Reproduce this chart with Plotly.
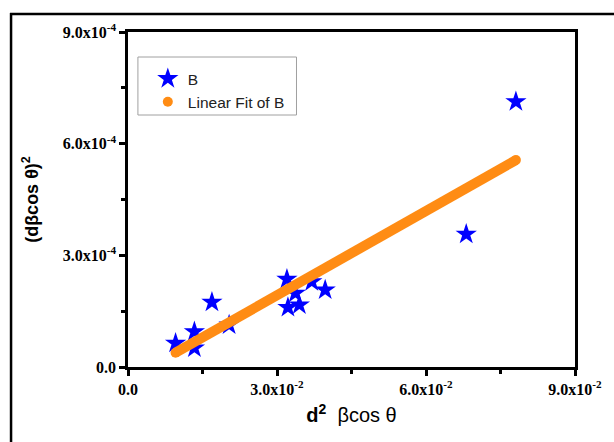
import plotly.graph_objects as go

# Data
b_x = [0.00958, 0.01337, 0.01337, 0.0169, 0.02036, 0.0320, 0.0322, 0.0345, 0.0337, 0.0370, 0.0397, 0.0681, 0.0781]
b_y = [0.64e-4, 0.51e-4, 0.95e-4, 1.74e-4, 1.13e-4, 2.36e-4, 1.60e-4, 1.67e-4, 1.98e-4, 2.29e-4, 2.07e-4, 3.57e-4, 7.13e-4]

fit_x = [0.00958, 0.0781]
fit_y = [0.384e-4, 5.56e-4]

x_tickvals = [0.0, 0.03, 0.06, 0.09]
x_ticktext = ["0.0", "3.0x10<sup>-2</sup>", "6.0x10<sup>-2</sup>", "9.0x10<sup>-2</sup>"]
y_tickvals = [0.0, 3e-4, 6e-4, 9e-4]
y_ticktext = ["0.0", "3.0x10<sup>-4</sup>", "6.0x10<sup>-4</sup>", "9.0x10<sup>-4</sup>"]

ORANGE = "#ff8c14"
BLUE = "#0000ff"

fig = go.Figure()
fig.add_trace(go.Scatter(x=b_x, y=b_y, mode="markers", name="B",
                         marker=dict(symbol="star", size=16, color=BLUE, line=dict(width=0))))
fig.add_trace(go.Scatter(x=fit_x, y=fit_y, mode="lines", showlegend=False,
                         line=dict(color=ORANGE, width=10)))
fig.add_trace(go.Scatter(x=fit_x, y=fit_y, mode="markers", name="Linear Fit of B",
                         marker=dict(symbol="circle", size=10, color=ORANGE, line=dict(width=0))))

L, R, T, B = 128, 35, 32, 75
W, H = 614, 442
pw, ph = W - L - R, H - T - B

def px(xp):
    return (xp - L) / pw

def py(yp):
    return (H - B - yp) / ph

tickfont = dict(family="Liberation Serif", size=16, color="black", weight="bold")

fig.update_layout(
    width=W, height=H,
    margin=dict(l=L, r=R, t=T, b=B),
    paper_bgcolor="white", plot_bgcolor="white",
    showlegend=True,
    legend=dict(x=px(148), y=py(62), xanchor="left", yanchor="top",
                bgcolor="rgba(0,0,0,0)", borderwidth=0,
                font=dict(family="Liberation Sans", size=15.5, color="#222222"),
                itemsizing="trace", tracegroupgap=0),
    xaxis=dict(range=[0, 0.09], tickmode="array", tickvals=x_tickvals, ticktext=x_ticktext,
               showgrid=False, zeroline=False, showline=True, linewidth=2.5, linecolor="black",
               mirror=True, ticks="outside", ticklen=6, tickwidth=2.5, tickcolor="black",
               tickfont=tickfont,
               minor=dict(tickmode="array", tickvals=[0.015, 0.045, 0.075], ticks="outside",
                          ticklen=4, tickwidth=2.5, tickcolor="black", showgrid=False),
               title=dict(text="<b>d<sup>2</sup></b>  <span style='font-weight:normal'>βcos θ</span>",
                          font=dict(family="Liberation Sans", size=20, color="black"),
                          standoff=12)),
    yaxis=dict(range=[0, 9e-4], tickmode="array", tickvals=y_tickvals, ticktext=y_ticktext,
               showgrid=False, zeroline=False, showline=True, linewidth=2.5, linecolor="black",
               mirror=True, ticks="outside", ticklen=6, tickwidth=2.5, tickcolor="black",
               tickfont=tickfont,
               minor=dict(tickmode="array", tickvals=[1.5e-4, 4.5e-4, 7.5e-4], ticks="outside",
                          ticklen=4, tickwidth=2.5, tickcolor="black", showgrid=False),
               title=dict(text="<b>(dβcos θ)<sup>2</sup></b>",
                          font=dict(family="Liberation Sans", size=18, color="black"),
                          standoff=20)),
    shapes=[dict(type="line", xref="paper", yref="paper",
                 x0=px(10), x1=px(10), y0=py(H + 5), y1=py(13),
                 line=dict(color="black", width=2.5), layer="below"),
            dict(type="line", xref="paper", yref="paper",
                 x0=px(9), x1=px(W + 5), y0=py(14), y1=py(14),
                 line=dict(color="black", width=2.5), layer="below"),
            dict(type="rect", xref="paper", yref="paper",
                 x0=px(138), x1=px(298), y0=py(115), y1=py(57),
                 line=dict(color="#a0a0a0", width=1), fillcolor="white", layer="below")],
)

fig.write_html("out.html", config={"displayModeBar": False},
               post_script="document.body.style.margin='0';document.body.style.padding='0';document.body.style.overflow='hidden';")
